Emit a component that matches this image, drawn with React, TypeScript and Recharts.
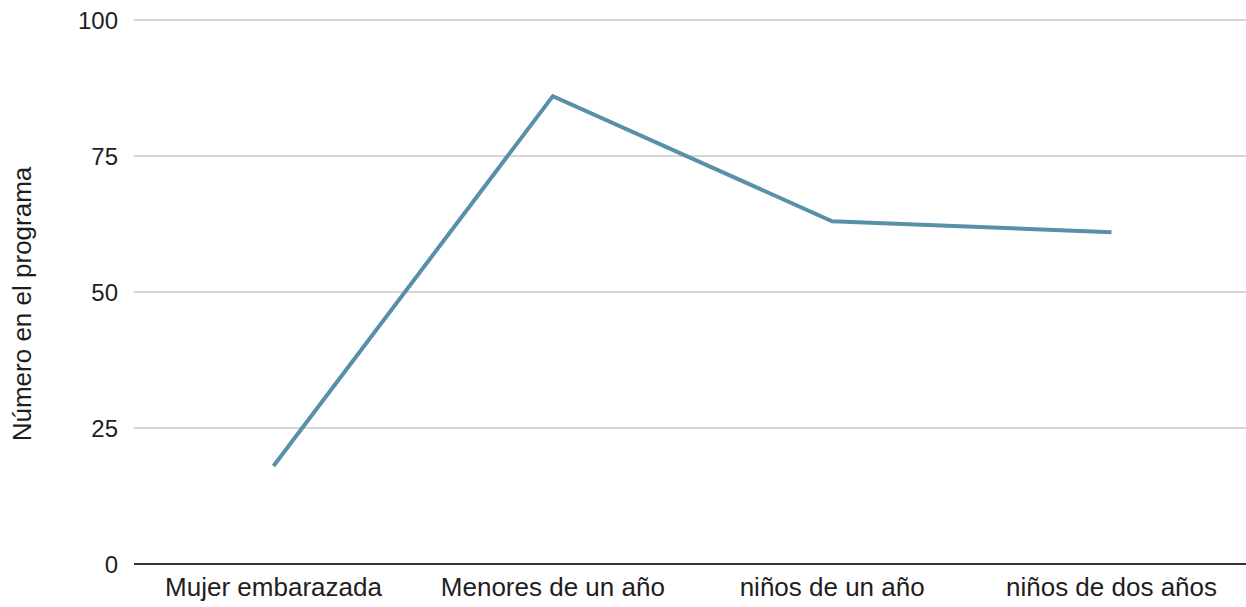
import React from "react";
import { LineChart, Line, XAxis, YAxis, CartesianGrid, Label } from "recharts";

const categories = ["Mujer embarazada", "Menores de un año", "niños de un año", "niños de dos años"];
const values = [18, 86, 63, 61];
const yTicks = [0, 25, 50, 75, 100];
const yTitle = "Número en el programa";

const data = categories.map((c, i) => ({ name: c, value: values[i] }));

const FONT = "'Liberation Sans', Arial, sans-serif";

const YTitle = (props: any) => {
  const vb = props.viewBox || { x: 0, y: 0, width: 0, height: 0 };
  const x = vb.x + 22;
  const y = vb.y + vb.height / 2 + 12;
  return (
    <text
      x={x}
      y={y}
      transform={`rotate(-90, ${x}, ${y})`}
      textAnchor="middle"
      dominantBaseline="central"
      fontFamily={FONT}
      fontSize={26}
      fill="#1e1e1e"
    >
      {yTitle}
    </text>
  );
};

export default function App() {
  return (
    <div style={{ position: "fixed", left: 0, top: 0, width: 1246, height: 607, overflow: "hidden", background: "#fff" }}>
      <LineChart width={1251} height={607} data={data} margin={{ top: 20, right: 0, bottom: 0, left: 0 }}>
        <CartesianGrid vertical={false} stroke="#c8c8c8" strokeWidth={1.5} />
        <XAxis
          dataKey="name"
          height={43}
          tickLine={false}
          axisLine={{ stroke: "#333", strokeWidth: 2 }}
          tick={{ fontFamily: FONT, fontSize: 26, fill: "#1e1e1e" }}
          tickMargin={8}
          interval={0}
          padding={{ left: 139.5, right: 139.5 }}
        />
        <YAxis
          width={134}
          domain={[0, 100]}
          ticks={yTicks}
          axisLine={false}
          tickLine={false}
          tickMargin={10}
          tick={{ fontFamily: FONT, fontSize: 24, fill: "#1e1e1e" }}
        >
          <Label content={<YTitle />} />
        </YAxis>
        <Line
          type="linear"
          dataKey="value"
          stroke="#5890a9"
          strokeWidth={4}
          dot={false}
          isAnimationActive={false}
        />
      </LineChart>
    </div>
  );
}
